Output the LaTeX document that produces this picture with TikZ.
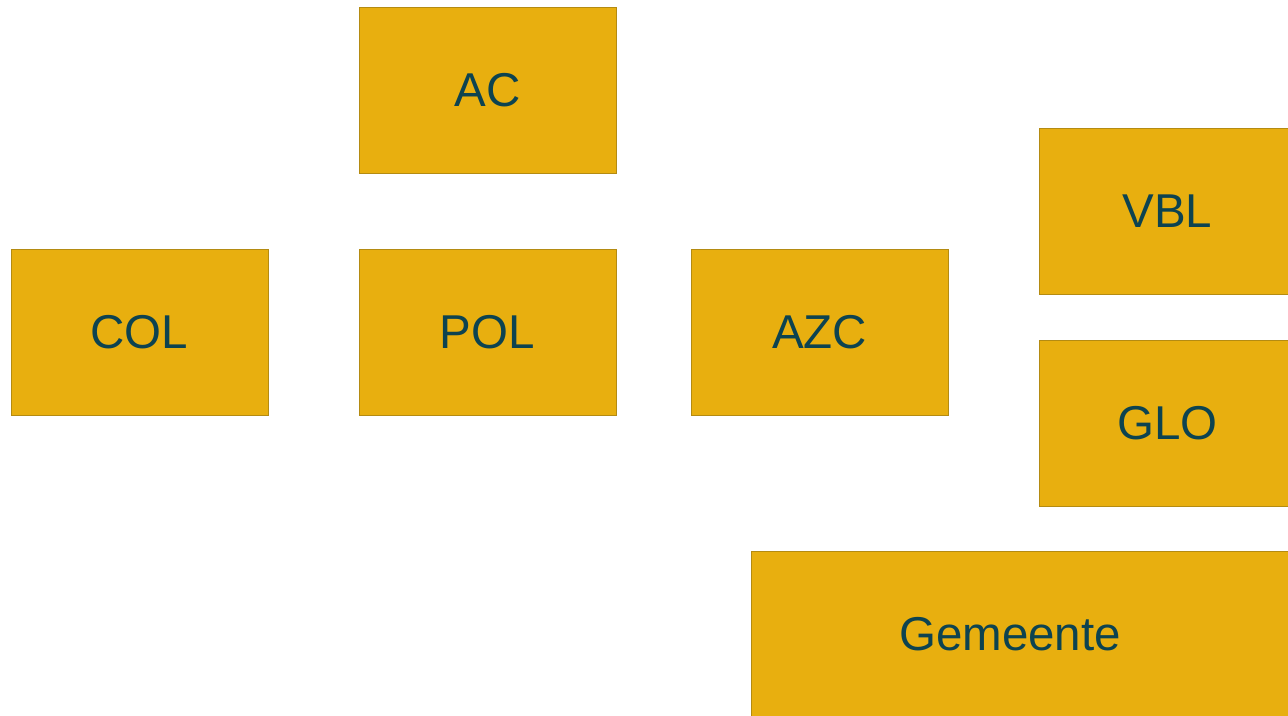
\documentclass[tikz,border=0pt]{standalone}
\usepackage{fontspec}
\setmainfont{Liberation Sans}
\definecolor{boxfill}{HTML}{E8AF0F}
\definecolor{boxline}{HTML}{B48B12}
\definecolor{boxtext}{HTML}{0D4350}
\tikzset{
  orgbox/.style={rectangle, draw=boxline, line width=0.8pt, fill=boxfill,
    text=boxtext, font=\fontsize{47.5}{50}\selectfont,
    minimum width=257pt, minimum height=166pt, inner sep=0pt, anchor=center}
}
\begin{document}
\begin{tikzpicture}[x=1pt,y=-1pt]
\useasboundingbox (0,0) rectangle (1288,715);
\clip (0,0) rectangle (1288,715);
\node[orgbox] (ac)  at (487.5,90.5) {AC};
\node[orgbox] (col) at (139.5,332) {COL};
\node[orgbox] (pol) at (487.5,332) {POL};
\node[orgbox] (azc) at (819.5,332) {AZC};
\node[orgbox] (vbl) at (1167.5,211.5) {VBL};
\node[orgbox] (glo) at (1167.5,423) {GLO};
\node[orgbox, minimum width=560pt, minimum height=170pt] (gem) at (1031,636) {\raisebox{5pt}{Gemeente}\kern42pt\null};
\end{tikzpicture}
\end{document}
